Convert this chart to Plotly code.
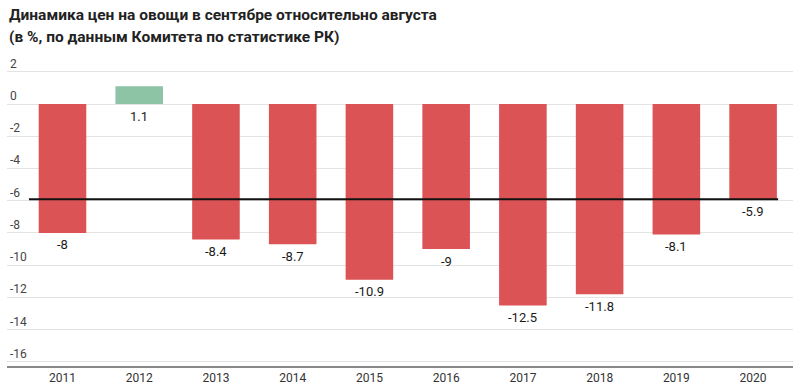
import plotly.graph_objects as go

years = ["2011", "2012", "2013", "2014", "2015", "2016", "2017", "2018", "2019", "2020"]
values = [-8, 1.1, -8.4, -8.7, -10.9, -9, -12.5, -11.8, -8.1, -5.9]
value_labels = ["-8", "1.1", "-8.4", "-8.7", "-10.9", "-9", "-12.5", "-11.8", "-8.1", "-5.9"]
y_ticks = [2, 0, -2, -4, -6, -8, -10, -12, -14, -16]
title_lines = ["Динамика цен на овощи в сентябре относительно августа",
               "(в %, по данным Комитета по статистике РК)"]
reference_value = values[-1]

RED = "#DC5356"
GREEN = "#8DC4A6"
colors = [GREEN if v > 0 else RED for v in values]

fig = go.Figure()
fig.add_trace(go.Bar(
    x=years, y=values,
    marker=dict(color=colors, line=dict(width=0)),
    hoverinfo="skip",
))

# category index positions (annotations on a category axis use the index)
for i, (v, lab) in enumerate(zip(values, value_labels)):
    fig.add_annotation(
        x=i, y=min(v, 0), text=lab, showarrow=False,
        yanchor="middle", yshift=-12,
        font=dict(family="Roboto", size=13, color="#1a1a1a"),
    )

fig.add_shape(
    type="line", xref="x", yref="y",
    x0=-0.437, x1=9.326, y0=reference_value, y1=reference_value,
    line=dict(color="#111111", width=2),
)

for i, line in enumerate(title_lines):
    fig.add_annotation(
        xref="paper", yref="paper", x=0, y=1, xanchor="left", yanchor="middle",
        xshift=0, yshift=(45 - 15) - 22 * i, align="left", showarrow=False,
        text="<b>" + line + "</b>",
        font=dict(family="Roboto", size=15.5, color="#222222"),
    )

fig.update_layout(
    width=800, height=390,
    margin=dict(l=7, r=7, t=45, b=24, autoexpand=False),
    paper_bgcolor="white", plot_bgcolor="white",
    showlegend=False,
    bargap=0.38,
    font=dict(family="Roboto", size=12, color="#444444"),
    xaxis=dict(
        type="category",
        range=[-0.723, 9.52],
        showgrid=False, zeroline=False,
        showline=True, linecolor="#888888", linewidth=2,
        ticks="", tickfont=dict(size=12, color="#333333"),
        automargin=False,
    ),
    yaxis=dict(
        range=[-16.25, 3.66], autorange=False,
        tickvals=y_ticks, ticktext=[str(t) for t in y_ticks],
        ticklabelposition="inside top",
        showgrid=True, gridcolor="#E3E3E3", gridwidth=1,
        zeroline=False, showline=False, ticks="",
        tickfont=dict(size=12, color="#444444"),
        automargin=False,
    ),
)

fig.write_html(
    "out.html",
    config={"displayModeBar": False},
    post_script="document.body.style.margin='0';document.body.style.overflow='hidden';",
)
